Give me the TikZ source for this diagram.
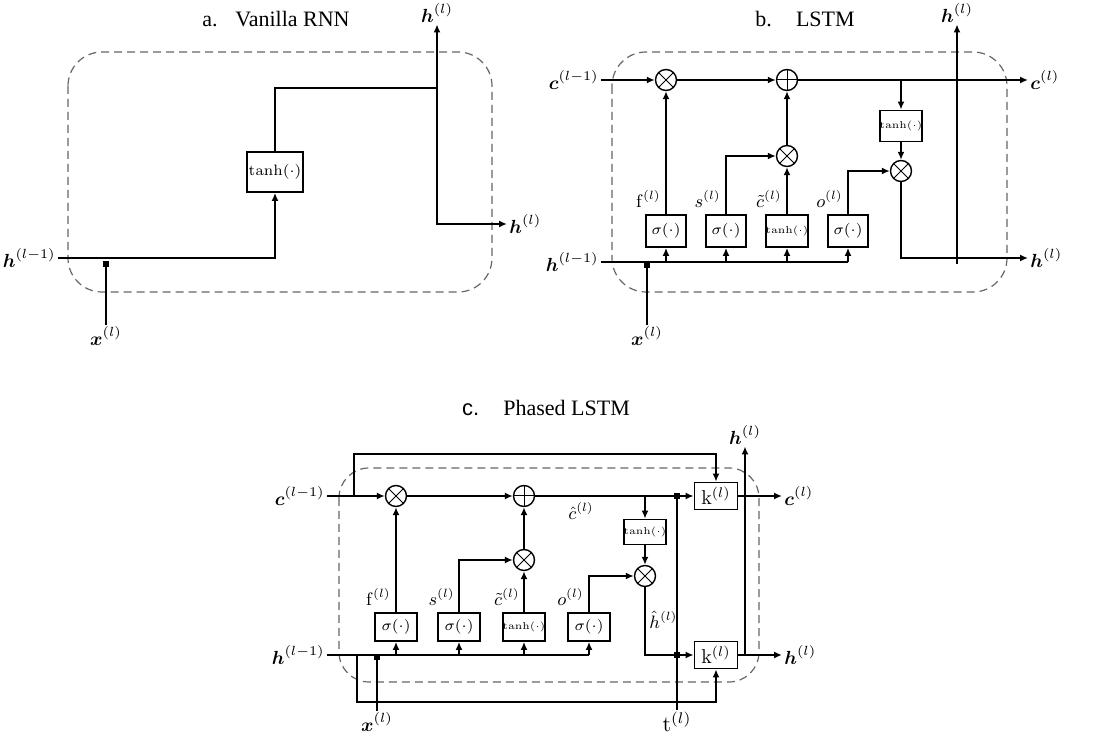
\RequirePackage{fix-cm}
\documentclass[tikz,border=0pt]{standalone}
\usepackage{amsmath,amssymb,bm}
\usepackage[no-math]{fontspec}
\newfontfamily\titlefont{Liberation Serif}
\newfontfamily\titlesans{Liberation Sans}
\usetikzlibrary{arrows.meta}
\newcommand\lblfont{\fontsize{9.5}{11}\selectfont}
\newcommand\gatefont{\fontsize{7.5}{9}\selectfont}
\newcommand\smallgatefont{\fontsize{5}{6}\selectfont}
\newcommand\glblfont{\fontsize{9}{10}\selectfont}
\newcommand\kfont{\fontsize{10}{11}\selectfont}
\newcommand\tfont{\fontsize{11}{12}\selectfont}
\tikzset{
  conn/.style={line width=0.9pt},
  arr/.style={conn,-{Latex[length=4pt,width=3.5pt]}},
  frame/.style={draw=black!60, line width=0.6pt, dash pattern=on 4pt off 2.5pt, rounded corners=17pt},
  title/.style={font=\titlefont\fontsize{11}{13}\selectfont, inner sep=0pt},
  lbl/.style={font=\lblfont, inner sep=1pt},
  glbl/.style={font=\glblfont, inner sep=0.5pt},
  gbox/.style={draw, line width=0.9pt, inner sep=0pt, font=\gatefont},
  opx/.style={circle, draw, line width=0.7pt, minimum size=10.5pt, inner sep=0pt,
    path picture={\draw[line width=0.5pt] (path picture bounding box.north west) -- (path picture bounding box.south east)
      (path picture bounding box.north east) -- (path picture bounding box.south west);}},
  opp/.style={circle, draw, line width=0.7pt, minimum size=10.5pt, inner sep=0pt,
    path picture={\draw[line width=0.5pt] (path picture bounding box.north) -- (path picture bounding box.south)
      (path picture bounding box.east) -- (path picture bounding box.west);}},
  sq/.style={fill, minimum size=3pt, inner sep=0pt},
}
\begin{document}
\begin{tikzpicture}[x=0.5pt,y=-0.5pt]
\useasboundingbox (0,0) rectangle (1099,737);

% ================= a. Vanilla RNN =================
\node[title] (ta) at (276,19) {a.\hspace{0.8em}Vanilla RNN};
\draw[frame] (68,52) rectangle (492,292);
\node[lbl,anchor=east] (ahin) at (58,258) {$\bm{h}^{(l-1)}$};
\node[gbox, minimum width=28pt, minimum height=20pt] (atanh) at (275,172) {$\tanh(\cdot)$};
\coordinate (aj1) at (275,88);
\coordinate (aj2) at (437,88);
\node[lbl] (ahup) at (437,13) {$\bm{h}^{(l)}$};
\node[lbl,anchor=west] (ahout) at (507,224) {$\bm{h}^{(l)}$};
\node[sq] (asq) at (106,264) {};
\node[lbl] (ax) at (106,336) {$\bm{x}^{(l)}$};
\draw[arr] (ahin.east) -| (atanh.south);
\draw[conn] (atanh.north) |- (aj2);
\draw[arr] (aj2) -- (ahup.south);
\draw[arr] (aj2) |- (ahout.west);
\draw[conn] (ax.north) -- (asq.south);

% ================= b. LSTM =================
\node[title] (tb) at (805,19) {b.\hspace{1.1em}LSTM};
\draw[frame] (612,52) rectangle (1007,292);
\node[lbl,anchor=east] (bcin) at (601,80) {$\bm{c}^{(l-1)}$};
\node[lbl,anchor=east] (bhin) at (601,262) {$\bm{h}^{(l-1)}$};
\node[opx] (bx1) at (666,80) {};
\node[opp] (bp) at (787,80) {};
\node[opx] (bx2) at (787,156) {};
\node[opx] (bx3) at (901,171) {};
\node[gbox, minimum width=20pt, minimum height=16pt] (bg1) at (666,231) {$\sigma(\cdot)$};
\node[gbox, minimum width=20pt, minimum height=16pt] (bg2) at (726,231) {$\sigma(\cdot)$};
\node[gbox, minimum width=20pt, minimum height=16pt, font=\smallgatefont] (bg3) at (787,231) {$\tanh(\cdot)$};
\node[gbox, minimum width=20pt, minimum height=16pt] (bg4) at (848,231) {$\sigma(\cdot)$};
\node[gbox, minimum width=20.5pt, minimum height=15.5pt, font=\smallgatefont] (bt) at (901,126) {$\tanh(\cdot)$};
\node[lbl,anchor=west] (bcout) at (1028,80) {$\bm{c}^{(l)}$};
\node[lbl,anchor=west] (bhout) at (1028,258) {$\bm{h}^{(l)}$};
\node[lbl] (bhup) at (957,13) {$\bm{h}^{(l)}$};
\coordinate (bhv) at (957,264);
\coordinate (bhe) at (848,262);
\node[sq] (bsq) at (647,265) {};
\node[lbl] (bx) at (647,336) {$\bm{x}^{(l)}$};
\node[glbl,anchor=east] (bf) at (662,199) {$\mathrm{f}^{(l)}$};
\node[glbl,anchor=east] (bs) at (722,199) {$s^{(l)}$};
\node[glbl,anchor=east] (bct) at (783,199) {$\tilde{c}^{(l)}$};
\node[glbl,anchor=east] (bo) at (844,199) {$o^{(l)}$};

\draw[arr] (bcin.east) -- (bx1.west);
\draw[arr] (bx1) -- (bp);
\draw[arr] (bp) -- (bcout.west);
\draw[conn] (bhin.east) -- (bhe);
\draw[arr] (bhe) -- (bg4.south);
\draw[arr] (bg1.south |- bhe) -- (bg1.south);
\draw[arr] (bg2.south |- bhe) -- (bg2.south);
\draw[arr] (bg3.south |- bhe) -- (bg3.south);
\draw[arr] (bg1) -- (bx1);
\draw[arr] (bg2.north) |- (bx2.west);
\draw[arr] (bg3) -- (bx2);
\draw[arr] (bx2) -- (bp);
\draw[arr] (bt.north |- bp) -- (bt.north);
\draw[arr] (bt) -- (bx3);
\draw[arr] (bg4.north) |- (bx3.west);
\draw[arr] (bx3.south) |- (bhout.west);
\draw[arr] (bhv) -- (bhup.south);
\draw[conn] (bx.north) -- (bsq.south);

% ================= c. Phased LSTM =================
\node[title] (tc) at (546,408) {{\titlesans c.}\hspace{1.1em}Phased LSTM};
\draw[frame, rounded corners=15pt] (339,468) rectangle (759,682);
\node[lbl,anchor=east] (ccin) at (327,496) {$\bm{c}^{(l-1)}$};
\node[lbl,anchor=east] (chin) at (327,655) {$\bm{h}^{(l-1)}$};
\node[opx] (cx1) at (396,496) {};
\node[opp] (cp) at (524,496) {};
\node[opx] (cx2) at (524,560) {};
\node[opx] (cx3) at (645,576) {};
\node[gbox, minimum width=21pt, minimum height=14pt] (cg1) at (396,627) {$\sigma(\cdot)$};
\node[gbox, minimum width=21pt, minimum height=14pt] (cg2) at (459,627) {$\sigma(\cdot)$};
\node[gbox, minimum width=21pt, minimum height=14pt, font=\smallgatefont] (cg3) at (524,627) {$\tanh(\cdot)$};
\node[gbox, minimum width=21pt, minimum height=14pt] (cg4) at (589,627) {$\sigma(\cdot)$};
\node[gbox, minimum width=21pt, minimum height=12.5pt, font=\smallgatefont] (ct) at (645,532) {$\tanh(\cdot)$};
\node[gbox, minimum width=21.5pt, minimum height=13.5pt, font=\kfont] (ck1) at (716,496) {$\mathrm{k}^{(l)}$};
\node[gbox, minimum width=21.5pt, minimum height=13.5pt, font=\kfont] (ck2) at (716,655) {$\mathrm{k}^{(l)}$};
\node[lbl,anchor=west] (ccout) at (782,496) {$\bm{c}^{(l)}$};
\node[lbl,anchor=west] (chout) at (782,655) {$\bm{h}^{(l)}$};
\node[lbl] (chup) at (745,435) {$\bm{h}^{(l)}$};
\node[sq] (csq1) at (377,657) {};
\node[lbl] (cx) at (377,722) {$\bm{x}^{(l)}$};
\node[sq] (csq2) at (677,496) {};
\node[sq] (csq3) at (677,655) {};
\node[font=\tfont, inner sep=1pt] (ctl) at (677,722) {$\mathrm{t}^{(l)}$};
\coordinate (cl1) at (354,496);
\coordinate (cl2) at (354,454);
\coordinate (cb1) at (357,655);
\coordinate (cb2) at (357,702);
\coordinate (che) at (589,655);
\coordinate (cv) at (745,655);
\node[glbl,anchor=east] (cf) at (392,597) {$\mathrm{f}^{(l)}$};
\node[glbl,anchor=east] (cs) at (456,597) {$s^{(l)}$};
\node[glbl,anchor=east] (cct) at (521,597) {$\tilde{c}^{(l)}$};
\node[glbl,anchor=east] (co) at (585,597) {$o^{(l)}$};
\node[glbl] (cch) at (581,511) {$\hat{c}^{(l)}$};
\node[glbl,anchor=west] (chh) at (648,620) {$\hat{h}^{(l)}$};

\draw[arr] (ccin.east) -- (cx1.west);
\draw[arr] (cx1) -- (cp);
\draw[arr] (cp) -- (ck1.west);
\draw[conn] (chin.east) -- (che);
\draw[arr] (che) -- (cg4.south);
\draw[arr] (cg1.south |- che) -- (cg1.south);
\draw[arr] (cg2.south |- che) -- (cg2.south);
\draw[arr] (cg3.south |- che) -- (cg3.south);
\draw[arr] (cg1) -- (cx1);
\draw[arr] (cg2.north) |- (cx2.west);
\draw[arr] (cg3) -- (cx2);
\draw[arr] (cx2) -- (cp);
\draw[arr] (ct.north |- cp) -- (ct.north);
\draw[arr] (ct) -- (cx3);
\draw[arr] (cg4.north) |- (cx3.west);
\draw[arr] (cx3.south) |- (ck2.west);
\draw[arr] (cl1) -- (cl2) -| (ck1.north);
\draw[arr] (cb1) -- (cb2) -| (ck2.south);
\draw[arr] (ck1) -- (ccout.west);
\draw[arr] (ck2) -- (chout.west);
\draw[arr] (cv) -- (chup.south);
\draw[conn] (cx.north) -- (csq1.south);
\draw[conn] (ctl.north) -- (csq2.center);
\end{tikzpicture}
\end{document}
